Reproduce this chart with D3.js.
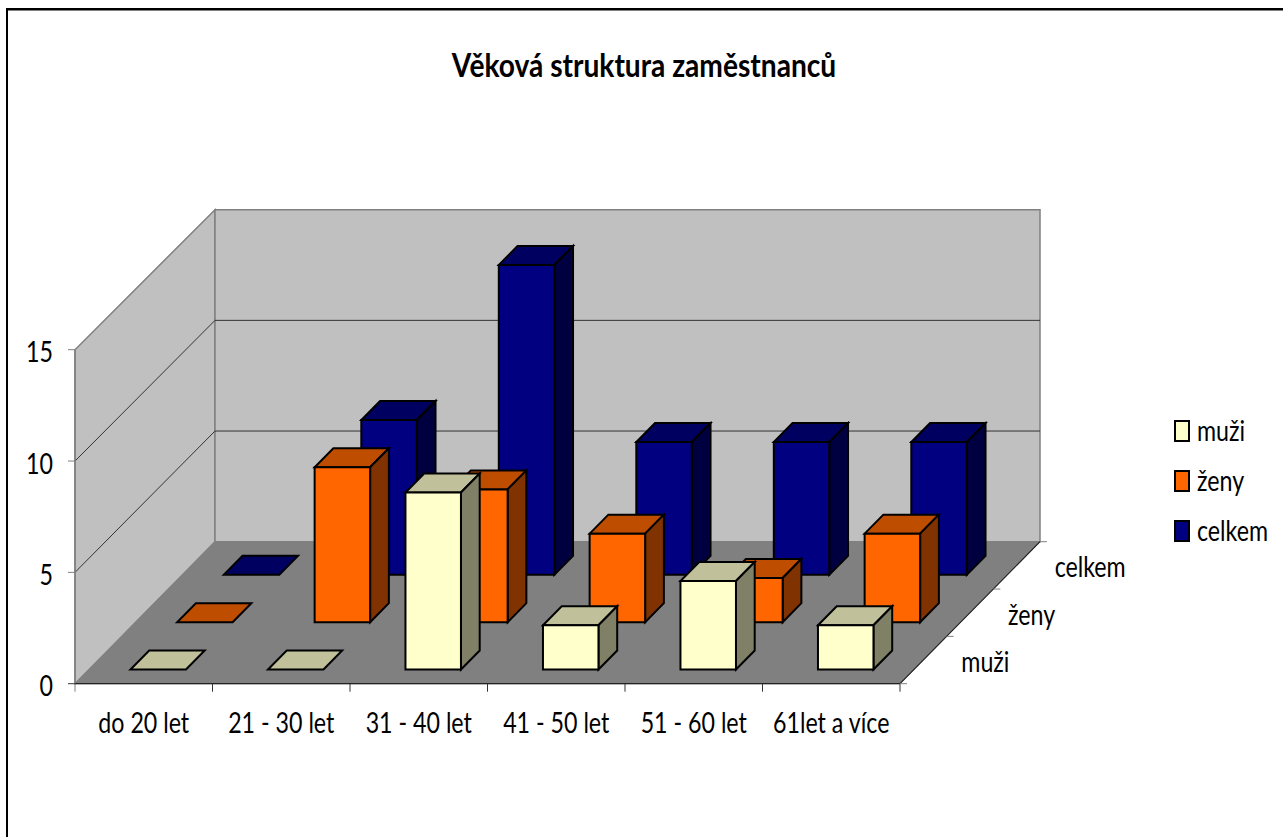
<!DOCTYPE html>
<html><head><meta charset="utf-8">
<script src="https://cdn.jsdelivr.net/npm/d3@7/dist/d3.min.js"></script>
<style>html,body{margin:0;padding:0;background:#fff;overflow:hidden}svg{display:block}
text{font-family:Lato,"Noto Sans",sans-serif;fill:#000}</style></head><body>
<svg id="c" width="1283" height="837"></svg>
<script>
const categories = ["do 20 let","21 - 30 let","31 - 40 let","41 - 50 let","51 - 60 let","61let a více"];
const seriesNames = ["muži","ženy","celkem"];
const muzi = [0,0,8,2,4,2];
const zeny = [0,7,6,4,2,4];
const celkem = [0,7,14,6,6,6];
const valueTicks = [0,5,10,15];
const chartTitle = "Věková struktura zaměstnanců";

const seriesValues = [muzi,zeny,celkem];
const colors = {front:["#ffffcc","#ff6600","#000080"],top:["#c0c09a","#bf4d00","#000060"],side:["#808066","#803300","#000040"]};

const svg = d3.select("#c");
const X = d3.scaleBand().domain(categories).range([75,900]);
const D = d3.scaleBand().domain(seriesNames).range([0,1]);
const V = d3.scaleLinear().domain([0,15]).range([0,332]);
const VFront = d3.scaleLinear().domain([0,15]).range([0,334]); // front edge of the left wall
const dx = 140, dy = 142, y0 = 683.7;
const px = (x,d) => x + d*dx;
const py = (d,v) => y0 - d*dy - V(v);
const pt = (x,d,v) => [px(x,d),py(d,v)];
const ptF = (x,v) => [x, y0 - VFront(v)];
const poly = p => p.map(q=>q.join(",")).join(" ");
const xL = X.range()[0], xR = X.range()[1];
const vMax = 15;
// condensed text: taller glyphs squeezed horizontally
const label = (x,y,s,anchor,size=29,sx=0.8,weight=400) => svg.append("text")
  .attr("transform",`translate(${x},${y}) scale(${sx},1)`)
  .attr("text-anchor",anchor).attr("font-size",size).attr("font-weight",weight).text(s);

// walls
svg.append("polygon").attr("points",poly([ptF(xL,0),pt(xL,1,0),pt(xL,1,vMax),ptF(xL,vMax)]))
  .attr("fill","#c0c0c0").attr("stroke","#808080").attr("stroke-width",1.5);
svg.append("polygon").attr("points",poly([pt(xL,1,0),pt(xR,1,0),pt(xR,1,vMax),pt(xL,1,vMax)]))
  .attr("fill","#c0c0c0").attr("stroke","#808080").attr("stroke-width",1.5);
// floor
svg.append("polygon").attr("points",poly([pt(xL,0,0),pt(xR,0,0),pt(xR,1,0),pt(xL,1,0)]))
  .attr("fill","#808080").attr("stroke","#808080");
// gridlines
const grid = svg.append("g").attr("stroke","#333").attr("stroke-width",1).attr("fill","none");
valueTicks.filter(v=>v>0 && v<vMax).forEach(v=>{
  grid.append("polyline").attr("points",poly([ptF(xL,v),pt(xL,1,v),pt(xR,1,v)]));
});
// value axis
const ax = svg.append("g").attr("stroke","#808080").attr("fill","none");
ax.append("line").attr("x1",xL).attr("x2",xL).attr("y1",y0).attr("y2",y0-VFront(vMax)).attr("stroke-width",1.5);
valueTicks.forEach(v=>{
  const y = y0-VFront(v);
  ax.append("line").attr("x1",xL-7).attr("x2",xL).attr("y1",y).attr("y2",y).attr("stroke",v?"#808080":"#333");
  label(xL-22,y+12.5,v,"end");
});
// category axis
svg.append("line").attr("x1",xL).attr("x2",xR).attr("y1",y0).attr("y2",y0).attr("stroke","#222").attr("stroke-width",1.2);
d3.range(categories.length+1).forEach(i=>{
  const x = xL + i*X.step();
  svg.append("line").attr("x1",x).attr("x2",x).attr("y1",y0).attr("y2",y0+8).attr("stroke",i?"#333":"#808080");
});
categories.forEach(c=>label(X(c)+X.bandwidth()/2,733,c,"middle"));
// depth axis
svg.append("line").attr("x1",px(xR,0)).attr("y1",py(0,0)).attr("x2",px(xR,1)).attr("y2",py(1,0)).attr("stroke","#222").attr("stroke-width",1.2);
d3.range(seriesNames.length+1).forEach(i=>{
  const d=i/seriesNames.length;
  svg.append("line").attr("x1",px(xR,d)).attr("x2",px(xR,d)+7).attr("y1",py(d,0)).attr("y2",py(d,0)).attr("stroke","#808080");
});
seriesNames.forEach(s=>{
  const d=D(s)+D.bandwidth()/2;
  label(px(xR,d)+38,py(d,0)+12,s,"start");
});
// bars: back series first, left to right
const barW = 55.5, barD = 19/dy;
const bars = [];
[2,1,0].forEach(si=>{
  categories.forEach((c,ci)=>bars.push({si,ci,c,v:seriesValues[si][ci]}));
});
const gb = svg.append("g").attr("stroke","#000").attr("stroke-width",2).attr("stroke-linejoin","miter");
bars.forEach(b=>{
  const x0 = X(b.c)+(X.bandwidth()-barW)/2+0.5, x1=x0+barW;
  const d0 = D(seriesNames[b.si])+(D.bandwidth()-barD)/2, d1=d0+barD;
  const g = gb.append("g");
  g.append("polygon").attr("fill",colors.top[b.si]).attr("points",poly([pt(x0,d0,b.v),pt(x1,d0,b.v),pt(x1,d1,b.v),pt(x0,d1,b.v)]));
  if(b.v>0){
    g.append("polygon").attr("fill",colors.side[b.si]).attr("points",poly([pt(x1,d0,0),pt(x1,d1,0),pt(x1,d1,b.v),pt(x1,d0,b.v)]));
    g.append("polygon").attr("fill",colors.front[b.si]).attr("points",poly([pt(x0,d0,0),pt(x1,d0,0),pt(x1,d0,b.v),pt(x0,d0,b.v)]));
  }
});
// legend
const L = d3.scalePoint().domain(seriesNames).range([431,531]);
seriesNames.forEach((s,i)=>{
  svg.append("rect").attr("x",1175).attr("y",L(s)-10).attr("width",14).attr("height",20).attr("fill",colors.front[i]).attr("stroke","#000").attr("stroke-width",2);
  label(1197,L(s)+10,s,"start");
});
// title
label(644,77,chartTitle,"middle",33,0.853,700);
// frame
svg.append("line").attr("x1",8).attr("x2",1283).attr("y1",10.5).attr("y2",10.5).attr("stroke","#808080");
svg.append("rect").attr("x",7).attr("y",9).attr("width",1290).attr("height",850).attr("fill","none").attr("stroke","#000").attr("stroke-width",2);
</script></body></html>
